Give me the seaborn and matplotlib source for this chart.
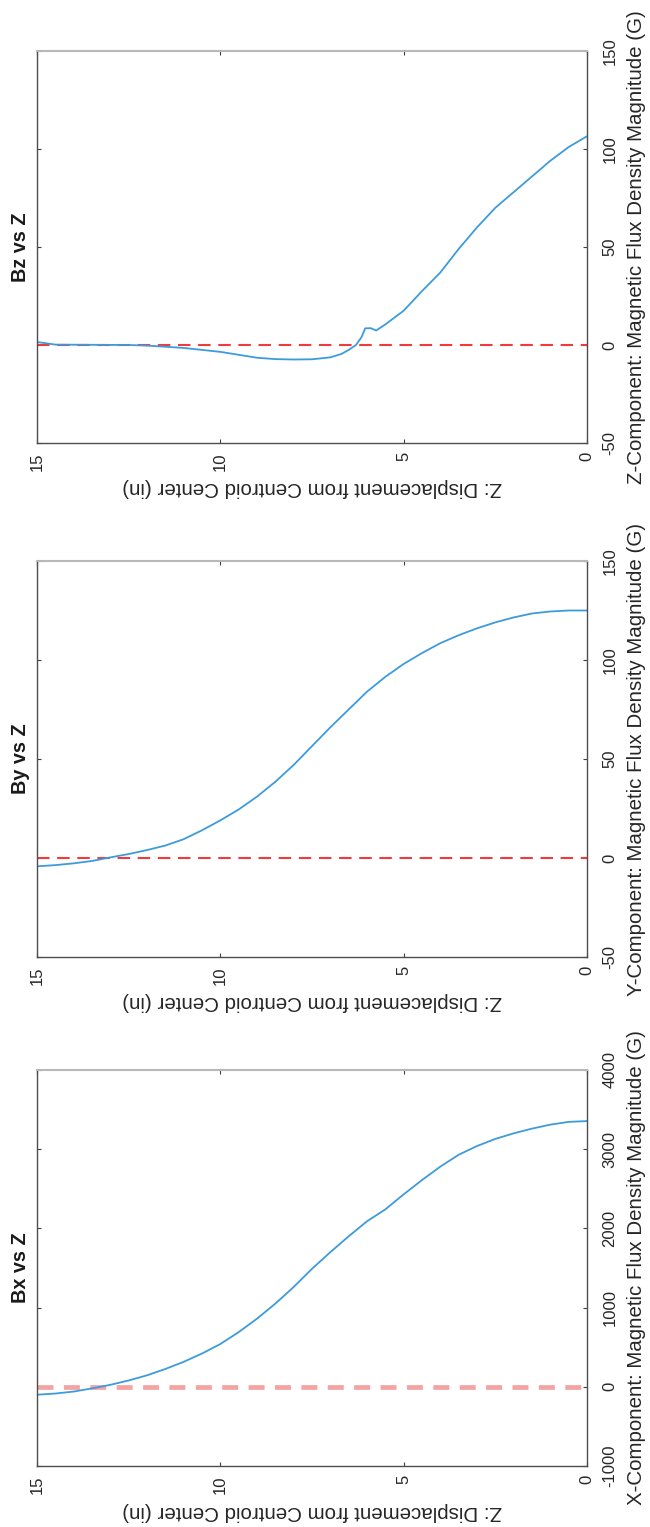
import numpy as np
import pandas as pd
import matplotlib
matplotlib.use("Agg")
import matplotlib.pyplot as plt
import seaborn as sns

# Displacement along Z (in) and the field components measured there (G)
z_bz = [15.0, 14.8, 14.5, 13.5, 12.5, 12.0, 11.0, 10.0, 9.5, 9.0, 8.5, 8.0, 7.5,
        7.0, 6.7, 6.5, 6.3, 6.15, 6.05, 5.9, 5.75, 5.5, 5.0, 4.5, 4.0, 3.5, 3.0,
        2.5, 2.0, 1.5, 1.0, 0.5, 0.0]
bz = [1.5, 1.0, 0.2, 0.1, 0.0, -0.3, -1.5, -3.5, -5.0, -6.5, -7.2, -7.4, -7.3,
      -6.3, -4.6, -2.5, 0.0, 4.0, 8.5, 8.6, 7.4, 10.5, 17.5, 27.5, 37.0, 49.0,
      60.0, 70.0, 78.0, 86.0, 94.0, 101.0, 106.5]

z_by = [15.0, 14.5, 14.0, 13.5, 13.0, 12.5, 12.0, 11.5, 11.0, 10.5, 10.0, 9.5,
        9.0, 8.5, 8.0, 7.5, 7.0, 6.5, 6.0, 5.5, 5.0, 4.5, 4.0, 3.5, 3.0, 2.5,
        2.0, 1.5, 1.0, 0.5, 0.0]
by = [-4.2, -3.6, -2.7, -1.5, 0.3, 2.0, 4.0, 6.3, 9.5, 14.0, 19.0, 24.5, 31.0,
      38.5, 47.0, 56.5, 66.0, 75.0, 84.0, 91.5, 98.0, 103.5, 108.5, 112.5,
      116.0, 119.0, 121.5, 123.5, 124.5, 125.0, 125.0]

z_bx = [15.0, 14.5, 14.0, 13.5, 13.0, 12.5, 12.0, 11.5, 11.0, 10.5, 10.0, 9.5,
        9.0, 8.5, 8.0, 7.5, 7.0, 6.5, 6.0, 5.5, 5.0, 4.5, 4.0, 3.5, 3.0, 2.5,
        2.0, 1.5, 1.0, 0.5, 0.0]
bx = [-100, -85, -60, -20, 25, 80, 145, 225, 315, 420, 540, 690, 860, 1050,
      1260, 1490, 1700, 1900, 2090, 2240, 2430, 2610, 2780, 2930, 3040, 3130,
      3200, 3260, 3310, 3345, 3355]

titles = ["Bz vs Z", "By vs Z", "Bx vs Z"]
value_labels = ["Z-Component: Magnetic Flux Density Magnitude (G)",
                "Y-Component: Magnetic Flux Density Magnitude (G)",
                "X-Component: Magnetic Flux Density Magnitude (G)"]
z_label = "Z: Displacement from Centroid Center (in)"
z_ticks = [0, 5, 10, 15]
value_ticks = [[-50, 0, 50, 100, 150], [-50, 0, 50, 100, 150],
               [-1000, 0, 1000, 2000, 3000, 4000]]

sns.set_style("white")
plt.rcParams["font.family"] = ["Liberation Sans", "DejaVu Sans"]
plt.rcParams["axes.unicode_minus"] = False
plt.rcParams["lines.scale_dashes"] = False

W, H = 650, 1527
fig = plt.figure(figsize=(W / 100, H / 100), dpi=100)

# panel boxes in pixels: (left, top, right, bottom)
boxes = [(37, 51, 587, 443), (37, 561, 587, 957), (37, 1070, 587, 1466)]
series = [(z_bz, bz), (z_by, by), (z_bx, bx)]
zero_styles = [
    dict(color="#ee3b3b", lw=1.5, ls=(0, (9.0, 5.5))),
    dict(color="#ee3b3b", lw=1.5, ls=(0, (9.0, 5.5))),
    dict(color="#f4a3a3", lw=3.4, ls=(0, (11.5, 7.5))),
]
text_col = "#262626"

for i, ((l, t, r, b), (zz, vv)) in enumerate(zip(boxes, series)):
    ax = fig.add_axes([l / W, 1 - b / H, (r - l) / W, (b - t) / H])
    df = pd.DataFrame({"z": zz, "B": vv})
    ax.axhline(0, zorder=1, **zero_styles[i])
    sns.lineplot(data=df, x="z", y="B", ax=ax, color="#3d9bdc", lw=1.3,
                 sort=False, estimator=None, zorder=2)

    ax.set_xlim(15, 0)
    yt = value_ticks[i]
    ax.set_ylim(yt[0], yt[-1])
    ax.set_xticks(z_ticks)
    ax.set_xticklabels([str(v) for v in z_ticks])
    ax.set_yticks(yt)
    ax.set_yticklabels([str(v) for v in yt])

    ax.tick_params(axis="both", which="both", direction="in", length=3,
                   width=0.8, color="#404040", labelsize=12,
                   labelcolor=text_col)
    ax.tick_params(axis="x", top=True, bottom=True, labelrotation=90, pad=6.5)
    ax.tick_params(axis="y", left=True, right=True, labelleft=False,
                   labelright=True, labelrotation=90, pad=11)
    for lab in ax.get_yticklabels():
        lab.set_va("center")
        lab.set_ha("left")

    for name, sp in ax.spines.items():
        sp.set_visible(True)
        sp.set_color("#4d4d4d")
        sp.set_linewidth(1.0)
    ax.spines["top"].set_color("#b8b8b8")
    ax.spines["top"].set_linewidth(1.5)

    # displacement label sits 45 px under the box, upside down
    ax.set_xlabel(z_label, rotation=180, fontsize=14.8, color=text_col,
                  va="center", ha="center")
    ax.xaxis.set_label_coords(0.5, -45 / (b - t))
    ax.yaxis.set_label_position("right")
    ax.set_ylabel(value_labels[i], rotation=90, fontsize=14.8, color=text_col,
                  va="center", ha="center")
    ax.yaxis.set_label_coords((637 - l) / (r - l), 0.5)

    ax.text((20 - l) / (r - l), 0.5, titles[i], transform=ax.transAxes,
            rotation=90, ha="center", va="center", fontsize=14.3,
            fontweight="bold", color="#1a1a1a")

fig.savefig("out.png", dpi=100)
